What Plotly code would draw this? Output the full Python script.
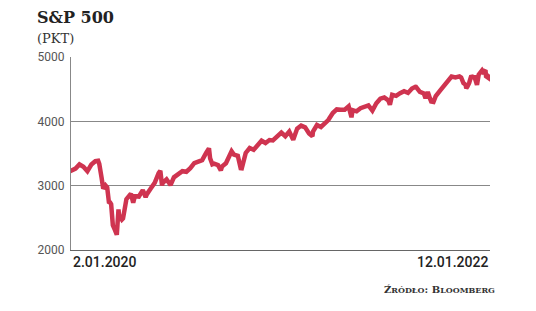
import plotly.graph_objects as go

dates = ["2020-01-02","2020-01-03","2020-01-10","2020-01-17","2020-01-24","2020-01-31","2020-02-07","2020-02-14","2020-02-19","2020-02-21","2020-02-25","2020-02-28","2020-03-03","2020-03-06","2020-03-09","2020-03-11","2020-03-13","2020-03-16","2020-03-20","2020-03-23","2020-03-26","2020-03-27","2020-04-01","2020-04-03","2020-04-09","2020-04-17","2020-04-21","2020-04-24","2020-05-01","2020-05-08","2020-05-13","2020-05-15","2020-05-22","2020-05-29","2020-06-05","2020-06-08","2020-06-11","2020-06-12","2020-06-19","2020-06-26","2020-07-02","2020-07-10","2020-07-17","2020-07-24","2020-07-31","2020-08-07","2020-08-14","2020-08-21","2020-08-28","2020-09-02","2020-09-04","2020-09-08","2020-09-11","2020-09-18","2020-09-23","2020-09-25","2020-10-02","2020-10-09","2020-10-12","2020-10-16","2020-10-23","2020-10-28","2020-10-30","2020-11-06","2020-11-13","2020-11-20","2020-11-27","2020-12-04","2020-12-11","2020-12-18","2020-12-24","2020-12-31","2021-01-08","2021-01-15","2021-01-22","2021-01-29","2021-02-05","2021-02-12","2021-02-19","2021-02-26","2021-03-04","2021-03-05","2021-03-12","2021-03-19","2021-03-26","2021-04-01","2021-04-09","2021-04-16","2021-04-23","2021-04-30","2021-05-07","2021-05-12","2021-05-14","2021-05-21","2021-05-28","2021-06-04","2021-06-11","2021-06-18","2021-06-25","2021-07-02","2021-07-09","2021-07-16","2021-07-19","2021-07-23","2021-07-30","2021-08-06","2021-08-13","2021-08-20","2021-08-27","2021-09-02","2021-09-03","2021-09-10","2021-09-17","2021-09-20","2021-09-24","2021-09-28","2021-09-30","2021-10-04","2021-10-08","2021-10-15","2021-10-22","2021-10-29","2021-11-05","2021-11-12","2021-11-19","2021-11-22","2021-11-26","2021-11-30","2021-12-01","2021-12-03","2021-12-06","2021-12-10","2021-12-13","2021-12-15","2021-12-17","2021-12-20","2021-12-23","2021-12-29","2021-12-31","2022-01-03","2022-01-04","2022-01-05","2022-01-07","2022-01-10","2022-01-11","2022-01-12"]
values = [3258,3235,3265,3330,3295,3226,3328,3380,3386,3338,3128,2954,3003,2972,2747,2741,2711,2386,2305,2237,2630,2541,2471,2489,2790,2875,2737,2837,2831,2930,2820,2864,2955,3044,3194,3232,3002,3041,3098,3009,3130,3185,3225,3216,3271,3351,3373,3397,3508,3580,3427,3332,3341,3319,3237,3298,3348,3477,3534,3484,3465,3271,3270,3509,3585,3558,3638,3699,3663,3709,3703,3756,3825,3768,3841,3714,3887,3934,3907,3811,3768,3842,3943,3913,3975,4020,4129,4185,4180,4181,4233,4063,4174,4156,4204,4230,4247,4166,4281,4352,4370,4327,4258,4412,4395,4437,4468,4442,4509,4537,4535,4459,4433,4358,4455,4352,4307,4300,4391,4471,4545,4605,4697,4683,4698,4682,4595,4567,4513,4538,4592,4712,4669,4709,4620,4568,4725,4793,4766,4797,4794,4701,4677,4670,4713,4726]

y_ticks = [2000, 3000, 4000, 5000]
x_labels = ["2.01.2020", "12.01.2022"]

fig = go.Figure()
fig.add_trace(go.Scatter(x=dates, y=values, mode="lines",
                         line=dict(color="#cf3450", width=4.5), hoverinfo="skip"))

pw = 536 - 71 - 46
ph = 311 - 57 - 61
def px(x): return (x - 71) / pw
def py(y): return (311 - 61 - y) / ph

fig.update_layout(
    width=536, height=311,
    margin=dict(l=71, r=46, t=57, b=61),
    paper_bgcolor="white", plot_bgcolor="white",
    showlegend=False,
    xaxis=dict(range=[dates[0], dates[-1]], showticklabels=False, showgrid=False,
               zeroline=False, showline=True, linecolor="#666", linewidth=1.2, ticks=""),
    yaxis=dict(range=[2000, 5000], tickvals=y_ticks, ticktext=[str(v) for v in y_ticks],
               showgrid=True, gridcolor="#888", gridwidth=1, zeroline=False,
               showline=True, linecolor="#888", linewidth=1, ticks="",
               tickfont=dict(family="Roboto", size=12, color="#555"), ticklabelstandoff=3),
)
fig.add_annotation(text=x_labels[0], xref="paper", yref="paper", x=0, y=0, xanchor="left", yanchor="top",
                   yshift=-2, showarrow=False, font=dict(family="Roboto", size=14, color="#222", weight=500))
fig.add_annotation(text=x_labels[1], xref="paper", yref="paper", x=1, y=0, xanchor="right", yanchor="top",
                   yshift=-2, showarrow=False, font=dict(family="Roboto", size=14, color="#222", weight=500))
fig.add_annotation(text="<b>S&amp;P 500</b>", xref="paper", yref="paper", x=px(35), y=py(18),
                   xanchor="left", yanchor="middle", showarrow=False,
                   font=dict(family="DejaVu Serif", size=16, color="#222"))
fig.add_annotation(text="(PKT)", xref="paper", yref="paper", x=px(35), y=py(39),
                   xanchor="left", yanchor="middle", showarrow=False,
                   font=dict(family="DejaVu Serif", size=13, color="#333"))
fig.add_annotation(text="<b>Ź<span style='font-size:8px'>RÓDŁO</span>: B<span style='font-size:8px'>LOOMBERG</span></b>",
                   xref="paper", yref="paper", x=px(497), y=py(289),
                   xanchor="right", yanchor="middle", showarrow=False,
                   font=dict(family="DejaVu Serif", size=10, color="#333"))

fig.write_html("out.html")
